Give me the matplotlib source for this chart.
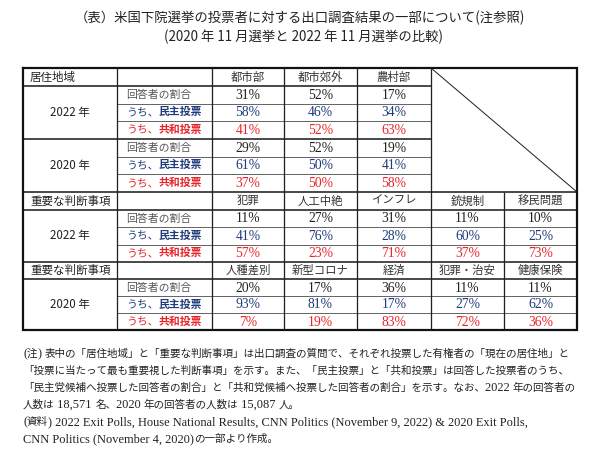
import re
import matplotlib
matplotlib.use('Agg')
import matplotlib.pyplot as plt

plt.rcParams['font.family'] = ['Noto Sans CJK JP', 'DejaVu Sans']
SERIF = ['Liberation Serif', 'Noto Sans CJK JP']

# データ（居住地域）
areas = ['都市部', '都市郊外', '農村部']
area_share_2022 = [31, 52, 17]
area_dem_2022 = [58, 46, 34]
area_rep_2022 = [41, 52, 63]
area_share_2020 = [29, 52, 19]
area_dem_2020 = [61, 50, 41]
area_rep_2020 = [37, 50, 58]

# データ（重要な判断事項）
issues_2022 = ['犯罪', '人工中絶', 'インフレ', '銃規制', '移民問題']
issue_share_2022 = [11, 27, 31, 11, 10]
issue_dem_2022 = [41, 76, 28, 60, 25]
issue_rep_2022 = [57, 23, 71, 37, 73]
issues_2020 = ['人種差別', '新型コロナ', '経済', '犯罪・治安', '健康保険']
issue_share_2020 = [20, 17, 36, 11, 11]
issue_dem_2020 = [93, 81, 17, 27, 62]
issue_rep_2020 = [7, 19, 83, 72, 36]

title = ['（表）米国下院選挙の投票者に対する出口調査結果の一部について(注参照)',
         '(2020 年 11 月選挙と 2022 年 11 月選挙の比較)']
notes = [
    '(注) 表中の「居住地域」と「重要な判断事項」は出口調査の質問で、それぞれ投票した有権者の「現在の居住地」と',
    '「投票に当たって最も重要視した判断事項」を示す。また、「民主投票」と「共和投票」は回答した投票者のうち、',
    '「民主党候補へ投票した回答者の割合」と「共和党候補へ投票した回答者の割合」を示す。なお、2022 年の回答者の',
    '人数は 18,571 名、2020 年の回答者の人数は 15,087 人。',
    '(資料) 2022 Exit Polls, House National Results, CNN Politics (November 9, 2022) & 2020 Exit Polls,',
    'CNN Politics (November 4, 2020)の一部より作成。',
]

BLUE = '#1f3b7a'
RED = '#e8232a'
GREY = '#555555'
PX = 0.72  # 1px -> pt

fig = plt.figure(figsize=(6, 4.49), dpi=100)
ax = fig.add_axes([0, 0, 1, 1])
ax.set_xlim(0, 600)
ax.set_ylim(449, 0)
ax.axis('off')
renderer = fig.canvas.get_renderer()

# 列・行の境界
cx = [23, 117, 212, 284, 357, 431, 504, 577]
ry = [68, 86, 103.5, 121, 138.5, 156.5, 174, 192, 210, 227, 244.5, 261.5, 279, 296, 313, 330]


def hline(y, x0, x1, lw=1.0, c='#222222'):
    ax.plot([x0, x1], [y, y], color=c, lw=lw * PX, solid_capstyle='butt')


def vline(x, y0, y1, lw=1.0, c='#222222'):
    ax.plot([x, x], [y0, y1], color=c, lw=lw * PX, solid_capstyle='butt')


# 罫線
for y in [86, 138.5]:
    hline(y, cx[0], cx[5], 1.6)
for y in [192, 210, 261.5, 279]:
    hline(y, cx[0], cx[7], 1.6)
for y in [103.5, 121, 156.5, 174]:
    hline(y, cx[1], cx[5], 1.0, '#666666')
for y in [227, 244.5, 296, 313]:
    hline(y, cx[1], cx[7], 1.0, '#666666')
for x in cx[1:6]:
    vline(x, ry[0], ry[-1], 1.3)
vline(cx[6], ry[7], ry[-1], 1.3)
ax.plot([cx[0], cx[7], cx[7], cx[0], cx[0]], [ry[0], ry[0], ry[-1], ry[-1], ry[0]],
        color='#111111', lw=2.2 * PX, solid_joinstyle='miter')
ax.plot([cx[5], cx[7]], [ry[0], ry[7]], color='#222222', lw=1.0 * PX)

# タイトル
ax.text(300, 18, title[0], ha='center', va='center', fontsize=9.6, color='#222222')
ax.text(303, 37, title[1], ha='center', va='center', fontsize=9.6, color='#222222')


def mid(i):
    return (ry[i] + ry[i + 1]) / 2


def col_mid(j):
    return (cx[j] + cx[j + 1]) / 2


def header_row(r, label, cats):
    ax.text(30, mid(r), label, ha='left', va='center', fontsize=8.3, color='#222222')
    for j, c in enumerate(cats):
        ax.text(col_mid(j + 2), mid(r), c, ha='center', va='center', fontsize=8.2,
                color='#333333')


def party_label(y, party, color):
    t = ax.text(126, y, 'うち、', ha='left', va='center', fontsize=7.8, color=color)
    ax.annotate(party, xy=(1, 0.5), xycoords=t, ha='left', va='center',
                fontsize=7.8, color=color, fontweight='bold')


def group(r, year, share, dem, rep):
    ax.text(70, mid(r + 1), year, ha='center', va='center', fontsize=8.3, color='#222222')
    ax.text(126, mid(r), '回答者の割合', ha='left', va='center', fontsize=7.8, color=GREY)
    party_label(mid(r + 1), '民主投票', BLUE)
    party_label(mid(r + 2), '共和投票', RED)
    for k, vals, col in [(0, share, '#222222'), (1, dem, BLUE), (2, rep, RED)]:
        for j, v in enumerate(vals):
            ax.text(col_mid(j + 2), mid(r + k) + 0.5, f'{v}%', ha='center', va='center',
                    fontsize=9.8, color=col, family=SERIF)


header_row(0, '居住地域', areas)
group(1, '2022 年', area_share_2022, area_dem_2022, area_rep_2022)
group(4, '2020 年', area_share_2020, area_dem_2020, area_rep_2020)
header_row(7, '重要な判断事項', issues_2022)
group(8, '2022 年', issue_share_2022, issue_dem_2022, issue_rep_2022)
header_row(11, '重要な判断事項', issues_2020)
group(12, '2020 年', issue_share_2020, issue_dem_2020, issue_rep_2020)


# 注記（欧文は Liberation Serif、和文は Noto Sans CJK で続けて描く）
def mixed_line(x, y, line):
    for seg in re.findall(r'[\x20-\x7e]+|[^\x20-\x7e]+', line):
        latin = seg[0].isascii()
        t = ax.text(x, y, seg, ha='left', va='baseline', color='#222222',
                    fontsize=8.9 if latin else 7.6,
                    family='Liberation Serif' if latin else 'Noto Sans CJK JP')
        bb = t.get_window_extent(renderer)
        x = ax.transData.inverted().transform((bb.x1, bb.y0))[0]


for i, line in enumerate(notes):
    mixed_line(23, 357 + i * 17, line)

fig.savefig('out.png', dpi=100)
